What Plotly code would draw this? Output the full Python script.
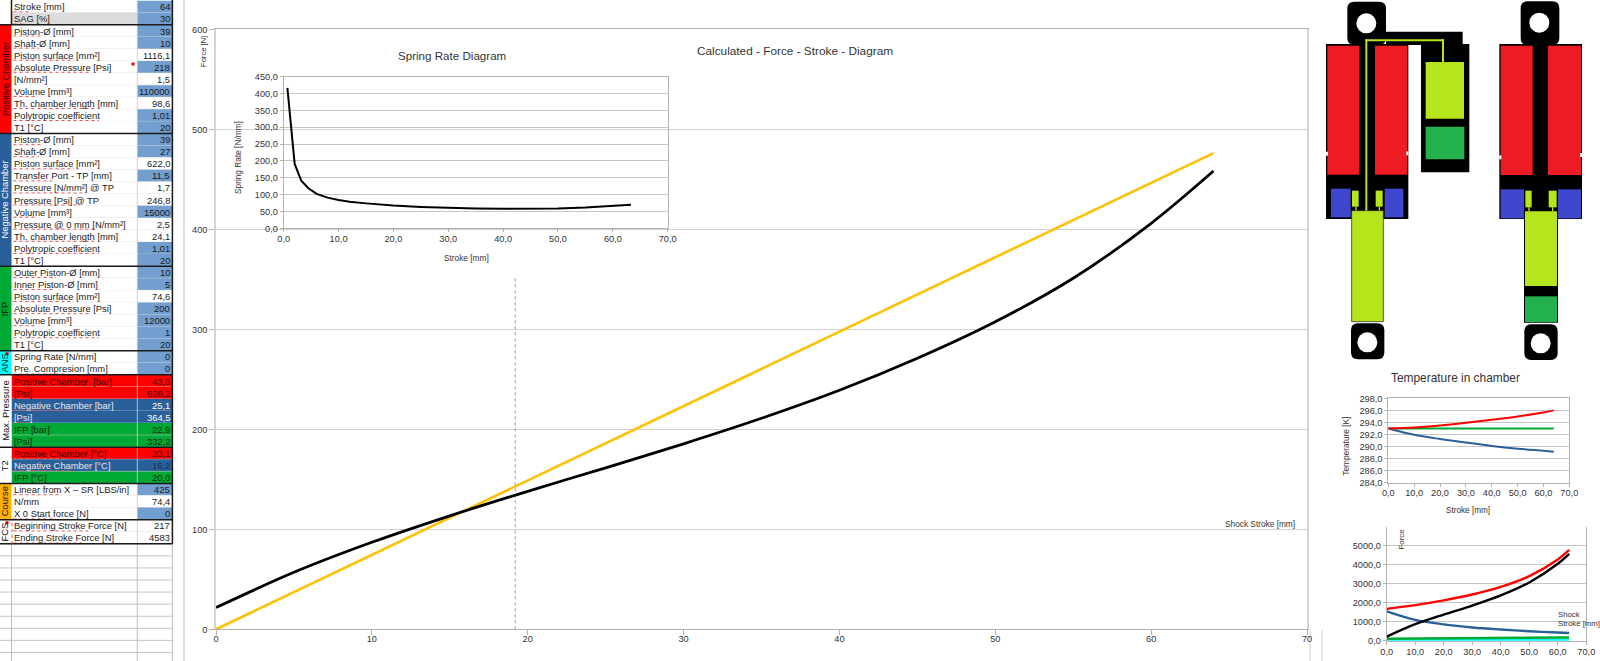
import plotly.graph_objects as go

W, H = 1600, 661
FONT = "Liberation Sans"

# ---------- chart data ----------
main_x = [0, 5, 10, 15, 20, 25, 30, 35, 40, 45, 50, 55, 60, 64]
main_force = [21.7, 57, 87, 113.5, 138, 161.5, 185.5, 211, 239, 271, 307.5, 351, 406, 458.3]
main_linear_x = [0, 10, 20, 30, 40, 50, 60, 64]
main_linear = [0, 74.4, 148.8, 223.2, 297.6, 372, 446.4, 476.2]
marker_x = [19.2, 19.2]
marker_y = [0, 352]
main_yticks = [0, 100, 200, 300, 400, 500, 600]
main_xticks = [0, 10, 20, 30, 40, 50, 60, 70]

rate_x = [0.67, 2, 3.2, 4.5, 6, 8, 10, 12, 15, 17.5, 20, 25, 30, 35, 40, 45, 50, 55, 60, 63.3]
rate_y = [417, 191, 141, 119, 102, 91, 84, 79, 74, 70.5, 67.5, 63.5, 60.5, 59, 58, 58, 59, 61.5, 66, 70]
rate_yticks = [0, 50, 100, 150, 200, 250, 300, 350, 400, 450]

temp_x = [0, 10, 20, 30, 40, 50, 60, 64]
temp_pos = [293, 293.15, 293.5, 293.95, 294.45, 295, 295.65, 296]
temp_neg = [293, 291.95, 291.25, 290.65, 290.1, 289.65, 289.3, 289.15]
temp_ifp = [293, 293, 293, 293, 293, 293, 293, 293]
temp_yticks = [284, 286, 288, 290, 292, 294, 296, 298]

force_x = [0, 10, 20, 30, 40, 50, 60, 64]
force_pos = [1680, 1880, 2130, 2440, 2840, 3410, 4290, 4790]
force_neg = [1550, 1100, 860, 700, 590, 500, 430, 410]
force_ifp = [100, 110, 120, 130, 140, 150, 165, 170]
force_ans = [15, 15, 15, 15, 15, 15, 15, 15]
force_total = [217, 870, 1380, 1855, 2390, 3075, 4060, 4583]
force_yticks = [0, 1000, 2000, 3000, 4000, 5000]
small_xticks = [0, 10, 20, 30, 40, 50, 60, 70]

# ---------- table text ----------
row_labels = [
    "Stroke [mm]", "SAG [%]",
    "Piston-Ø [mm]", "Shaft-Ø [mm]", "Piston surface [mm²]", "Absolute Pressure [Psi]", "[N/mm²]",
    "Volume [mm³]", "Th. chamber length [mm]", "Polytropic coefficient", "T1 [°C]",
    "Piston-Ø [mm]", "Shaft-Ø [mm]", "Piston surface [mm²]", "Transfer Port - TP [mm]",
    "Pressure [N/mm²] @ TP", "Pressure [Psi] @ TP", "Volume [mm³]", "Pressure @ 0 mm [N/mm²]",
    "Th. chamber length [mm]", "Polytropic coefficient", "T1 [°C]",
    "Outer Piston-Ø [mm]", "Inner Piston-Ø [mm]", "Piston surface [mm²]", "Absolute Pressure [Psi]",
    "Volume [mm³]", "Polytropic coefficient", "T1 [°C]",
    "Spring Rate [N/mm]", "Pre. Compresion [mm]",
    "Positive Chamber  [bar]", "[Psi]", "Negative Chamber [bar]", "[Psi]", "IFP [bar]", "[Psi]",
    "Positive Chamber [°C]", "Negative Chamber [°C]", "IFP [°C]",
    "Linear from X – SR [LBS/in]", "N/mm", "X 0 Start force [N]",
    "Beginning Stroke Force [N]", "Ending Stroke Force [N]",
]
row_values = [
    "64", "30",
    "39", "10", "1116,1", "218", "1,5", "110000", "98,6", "1,01", "20",
    "39", "27", "622,0", "11,5", "1,7", "246,8", "15000", "2,5", "24,1", "1,01", "20",
    "10", "5", "74,6", "200", "12000", "1", "20",
    "0", "0",
    "43,3", "628,2", "25,1", "364,5", "22,9", "332,2",
    "23,1", "16,2", "20,0",
    "425", "74,4", "0",
    "217", "4583",
]
BL, WH, RD, NV, GR, GY = "#729fcf", "#ffffff", "#ff0000", "#2a6099", "#00a933", "#dcdcdc"
value_fill = [BL, BL,
              BL, BL, WH, BL, WH, BL, WH, BL, BL,
              BL, BL, WH, BL, WH, WH, BL, WH, WH, BL, BL,
              BL, BL, WH, BL, BL, BL, BL,
              BL, BL,
              RD, RD, NV, NV, GR, GR,
              RD, NV, GR,
              BL, WH, BL,
              WH, WH]
label_fill = [WH, GY] + [WH] * 29 + [RD, RD, NV, NV, GR, GR, RD, NV, GR] + [WH] * 5
squiggle_end = [32, 26, 42, 39, 74, 90, 0, 37, 94, 99, 0,
                42, 39, 74, 52, 82, 80, 37, 96, 94, 99, 0,
                56, 55, 74, 90, 37, 99, 0,
                0, 68, 68, 24, 73, 24, 0, 24,
                68, 73, 0, 62, 0, 56, 88, 82]
sections = [
    ("Positive Chamber", 2, 11, "#ff0000", "#3a0000"),
    ("Negative Chamber", 11, 22, "#2a6099", "#ffffff"),
    ("IFP", 22, 29, "#00a933", "#102010"),
    ("ANS", 29, 31, "#00ffff", "#102020"),
    ("Max. Pressure", 31, 37, "#ffffff", "#111111"),
    ("T2", 37, 40, "#ffffff", "#111111"),
    ("Course", 40, 43, "#ffb000", "#111111"),
    ("FCS", 43, 45, "#ffffff", "#111111"),
]
section_breaks = [2, 11, 22, 29, 31, 37, 40, 43, 45]

# ---------- helpers ----------
def px(v): return v / W
def py(v): return 1 - v / H
shapes, anns = [], []

def rect(x0, y0, x1, y1, fill, line=None, lw=0, layer="above"):
    shapes.append(dict(type="rect", xref="paper", yref="paper", x0=px(x0), x1=px(x1), y0=py(y0), y1=py(y1),
                       fillcolor=fill, line=dict(color=line or fill, width=lw), layer=layer))

def seg(x0, y0, x1, y1, color, lw=1, dash="solid", layer="above"):
    shapes.append(dict(type="line", xref="paper", yref="paper", x0=px(x0), x1=px(x1), y0=py(y0), y1=py(y1),
                       line=dict(color=color, width=lw, dash=dash), layer=layer))

def rrect(x0, y0, x1, y1, r, fill):
    a, b, c, d = px(x0), px(x1), py(y0), py(y1)
    rx, ry = r / W, r / H
    p = (f"M{a+rx},{c} L{b-rx},{c} Q{b},{c} {b},{c-ry} L{b},{d+ry} Q{b},{d} {b-rx},{d} "
         f"L{a+rx},{d} Q{a},{d} {a},{d+ry} L{a},{c-ry} Q{a},{c} {a+rx},{c} Z")
    shapes.append(dict(type="path", xref="paper", yref="paper", path=p, fillcolor=fill,
                       line=dict(width=0), layer="above"))

def circle(cx, cy, r, fill):
    shapes.append(dict(type="circle", xref="paper", yref="paper", x0=px(cx - r), x1=px(cx + r),
                       y0=py(cy + r), y1=py(cy - r), fillcolor=fill, line=dict(width=0), layer="above"))

def ann(x, y, text, size=9, color="#333333", anchor="center", angle=0):
    anns.append(dict(xref="paper", yref="paper", x=px(x), y=py(y), text=text, showarrow=False,
                     xanchor=anchor, yanchor="middle", textangle=angle, borderpad=0,
                     font=dict(family=FONT, size=size, color=color)))

# ---------- spreadsheet ----------
ROW0, ROWH = 0.65, 12.07
CELLFONT = 9.4
def rowy(k): return ROW0 + ROWH * k
COLA, COLB, COLC = 11.5, 137.3, 172.4
for k in range(45, 56):
    seg(0, rowy(k), COLC, rowy(k), "#c4c4c4", 1)
for xx in (COLA, COLB, COLC):
    seg(xx, rowy(45), xx, H, "#bdbdbd", 1)
for k, (lab, val) in enumerate(zip(row_labels, row_values)):
    rect(COLA, rowy(k), COLB, rowy(k + 1), label_fill[k])
    rect(COLB, rowy(k), COLC, rowy(k + 1), value_fill[k])
    seg(COLA, rowy(k + 1), COLC, rowy(k + 1), "#d8d8d8", 0.6)
    dark = value_fill[k] == NV
    ink = "#ffffff" if dark and k != 38 else ("#3a0000" if value_fill[k] == RD else ("#0a2a10" if value_fill[k] == GR else "#1a1a1a"))
    lab_ink = "#e8e8e8" if dark else ink
    if value_fill[k] == BL or value_fill[k] == WH:
        lab_ink = "#1a1a1a"
    ann(13.3, rowy(k) + ROWH / 2 + 0.2, lab, CELLFONT, lab_ink, "left")
    val_ink = "#12304f" if k == 38 else ink
    ann(171, rowy(k) + ROWH / 2 + 0.2, val, CELLFONT, val_ink, "right")
    if squiggle_end[k]:
        seg(13.5, rowy(k) + ROWH - 0.8, squiggle_end[k], rowy(k) + ROWH - 0.8, "#e2504f", 1, "dot")
seg(COLB, 0, COLB, rowy(45), "#c8c8c8", 0.8)
rect(0, 0, COLA, rowy(2), "#ffffff")
for name, a, b, fill, ink in sections:
    rect(0, rowy(a), COLA, rowy(b), fill)
    ann(4.8, (rowy(a) + rowy(b)) / 2, name, CELLFONT, ink, "center", -90)
for k in section_breaks:
    seg(0, rowy(k), COLC, rowy(k), "#1a1a1a", 1.5)
seg(COLA, 0, COLA, rowy(2), "#1a1a1a", 1.5)
seg(COLC, 0, COLC, rowy(45), "#1a1a1a", 1.5)
for cx, cy in [(133, 64), (7, 353.7), (7, 522.7)]:
    rect(cx - 1.5, cy - 1.5, cx + 1.5, cy + 1.5, "#ff0000")
seg(12, 523, 12, 544, "#e2504f", 1, "dot")

# ---------- frame bits of the big chart ----------
seg(184, 0, 184, H, "#d6d6d6", 1.5, layer="below")
seg(1310, 630, 1310, H, "#d0d0d0", 1, layer="below")
seg(1322, 630, 1322, H, "#d0d0d0", 1, layer="below")

# ---------- the shock schematic ----------
def X(v): return 1280 + v / 3
def Y(v): return v / 3
RED, BLUE, LIME, GREEN, BLK = "#ed1c24", "#3f48cc", "#b5e61d", "#22b14c", "#000000"
def z(x0, y0, x1, y1, fill, line=None):
    rect(X(x0), Y(y0), X(x1), Y(y1), fill, line, 0.8 if line else 0)
# left shock
rrect(X(202), Y(5), X(318), Y(135), 7, BLK)
z(318, 95, 548, 135, BLK)
z(138, 132, 385, 657, BLK)
z(423, 132, 568, 517, BLK)
z(142, 137, 238, 524, RED)
z(285, 137, 382, 524, RED)
z(153, 566, 212, 652, BLUE)
z(314, 566, 370, 652, BLUE)
z(216, 572, 236, 620, LIME)
z(287, 572, 308, 620, LIME)
z(226, 620, 230, 634, LIME)
z(296, 620, 300, 634, LIME)
z(215, 632, 310, 965, LIME, "#333333")
z(256, 118, 262, 632, LIME)
z(256, 118, 492, 124, LIME)
z(486, 118, 492, 186, LIME)
z(437, 186, 552, 356, LIME)
z(437, 380, 553, 478, GREEN)
rrect(X(213), Y(970), X(313), Y(1078), 7, BLK)
circle(X(259), Y(70), 10, "#ffffff")
circle(X(262), Y(1027), 10, "#ffffff")
z(138, 455, 144, 467, "#ffffff")
z(379, 454, 385, 466, "#ffffff")
# right shock
rrect(X(722), Y(4), X(838), Y(135), 7, BLK)
z(658, 132, 906, 657, BLK)
z(662, 137, 758, 525, RED)
z(804, 137, 903, 525, RED)
z(662, 568, 732, 655, BLUE)
z(834, 568, 903, 655, BLUE)
z(736, 572, 755, 622, LIME)
z(806, 572, 830, 622, LIME)
z(745, 622, 749, 634, LIME)
z(816, 622, 820, 634, LIME)
z(732, 634, 834, 968, BLK)
z(735, 634, 831, 858, LIME)
z(735, 889, 831, 966, GREEN)
rrect(X(733), Y(973), X(833), Y(1080), 7, BLK)
circle(X(778), Y(68), 10, "#ffffff")
circle(X(782), Y(1030), 10, "#ffffff")
z(658, 466, 664, 478, "#ffffff")
z(900, 459, 906, 471, "#ffffff")

# ---------- charts ----------
fig = go.Figure()
def line(xs, ys, color, w, xa, ya, dash="solid", curve="linear"):
    ln = dict(color=color, width=w, dash=dash, shape=curve)
    if curve == "spline":
        ln["smoothing"] = 0.9
    fig.add_trace(go.Scatter(x=xs, y=ys, mode="lines", line=ln,
                             xaxis=xa, yaxis=ya, showlegend=False, hoverinfo="skip"))

line(marker_x, marker_y, "#9a9a9a", 1, "x", "y", "dot")
line(main_linear_x, main_linear, "#ffc000", 2.6, "x", "y")
line(main_x, main_force, "#000000", 2.8, "x", "y", curve="spline")
line(rate_x, rate_y, "#000000", 2, "x2", "y2")
line(temp_x, temp_ifp, "#00a933", 2, "x3", "y3")
line(temp_x, temp_neg, "#2a6099", 2, "x3", "y3", curve="spline")
line(temp_x, temp_pos, "#ff0000", 2, "x3", "y3", curve="spline")
line(force_x, force_ans, "#00ffff", 3, "x4", "y4")
line(force_x, force_ifp, "#00a933", 2.4, "x4", "y4")
line(force_x, force_neg, "#2a6099", 2.4, "x4", "y4", curve="spline")
line(force_x, force_pos, "#ff0000", 2.4, "x4", "y4", curve="spline")
line(force_x, force_total, "#000000", 2.4, "x4", "y4", curve="spline")

def axes(x0, x1, ytop, ybot, xr, yr, xt, yt, fmt, size=9.2, grid="#c6c6c6", glw=1.2, left="#b3b3b3",
         mirror_x=True, ticklen=3, standoff=0):
    xa = dict(domain=[px(x0), px(x1)], range=xr, tickvals=xt, tickformat=fmt, showgrid=False, zeroline=False,
              showline=True, linecolor="#b3b3b3", linewidth=1, mirror=mirror_x, ticks="outside", ticklen=ticklen,
              tickcolor="#b3b3b3", tickwidth=1, fixedrange=True, automargin=False, ticklabelstandoff=standoff,
              tickfont=dict(family=FONT, size=size, color="#333333"))
    ya = dict(domain=[py(ybot), py(ytop)], range=yr, tickvals=yt, tickformat=fmt, showgrid=True, gridcolor=grid,
              gridwidth=glw, zeroline=False, showline=True, linecolor=left, linewidth=1.5 if left != "#b3b3b3" else 1,
              mirror=True, ticks="outside", ticklen=ticklen, tickcolor="#b3b3b3", tickwidth=1, fixedrange=True,
              automargin=False, tickfont=dict(family=FONT, size=size, color="#333333"))
    return xa, ya

xa1, ya1 = axes(216, 1307, 29.3, 629.3, [0, 70], [0, 600], main_xticks, main_yticks, "d",
                grid="#d0d0d0", glw=1.3, left="#d4d4d4", ticklen=5, standoff=-4)
xa2, ya2 = axes(283.7, 667.7, 76.7, 228.3, [0, 70], [0, 450], main_xticks, rate_yticks, ".1f", standoff=-1)
xa3, ya3 = axes(1388.3, 1569.3, 398.3, 482.7, [0, 70], [284, 298], small_xticks, temp_yticks, ".1f", standoff=-2)
xa4, ya4 = axes(1386.7, 1586.3, 527, 640.7, [0, 70], [0, 6000], small_xticks, force_yticks, ".1f",
                mirror_x=False, standoff=-1)
for xa, ya, a, b in [(xa1, ya1, "y", "x"), (xa2, ya2, "y2", "x2"), (xa3, ya3, "y3", "x3"), (xa4, ya4, "y4", "x4")]:
    xa["anchor"] = a
    ya["anchor"] = b

shapes.append(dict(type="rect", xref="x", yref="y", x0=(218 - 216) / 15.586, x1=(686 - 216) / 15.586,
                   y0=629.3 - 275, y1=629.3 - 31, fillcolor="#ffffff", line=dict(width=0), layer="below"))

ann(795, 51, "Calculated - Force - Stroke - Diagram", 11.8)
ann(204, 52, "Force [N]", 7.6, angle=-90)
ann(1260, 524, "Shock Stroke [mm]", 8.3)
ann(451.7, 55.7, "Spring Rate Diagram", 11.6)
ann(238, 158, "Spring Rate [N/mm]", 8.3, angle=-90)
ann(466, 257.7, "Stroke [mm]", 8.3)
ann(1455, 378, "Temperature in chamber", 11.9)
ann(1346, 446.7, "Temperature [K]", 8.3, angle=-90)
ann(1468, 510.7, "Stroke [mm]", 8.2)
ann(1400.7, 539, "Force", 8, angle=-90)
ann(1556.7, 614, "Shock", 7.8, anchor="left")
ann(1556.7, 623, "Stroke [mm]", 7.8, anchor="left")

fig.update_layout(width=W, height=H, margin=dict(l=0, r=0, t=0, b=0), autosize=False,
                  paper_bgcolor="#ffffff", plot_bgcolor="rgba(0,0,0,0)", showlegend=False,
                  separators=", ", shapes=shapes, annotations=anns,
                  xaxis=xa1, yaxis=ya1, xaxis2=xa2, yaxis2=ya2, xaxis3=xa3, yaxis3=ya3, xaxis4=xa4, yaxis4=ya4)
fig.write_html("out.html", config=dict(displayModeBar=False),
               post_script="document.body.style.margin='0';document.body.style.overflow='hidden';")
